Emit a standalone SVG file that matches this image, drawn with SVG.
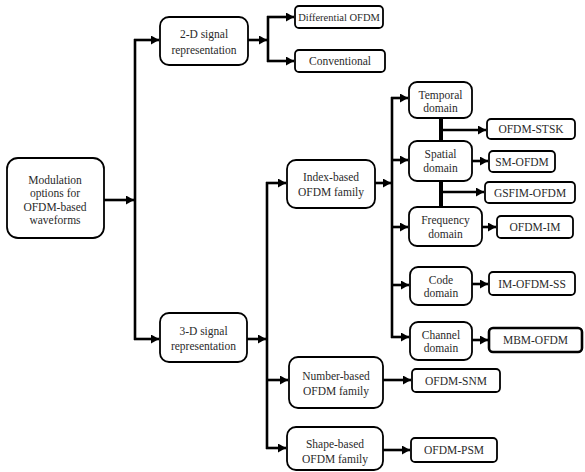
<svg xmlns="http://www.w3.org/2000/svg" width="585" height="472" viewBox="0 0 585 472">
<defs>
<marker id="ah" markerUnits="userSpaceOnUse" markerWidth="9" markerHeight="9" refX="8" refY="4.5" orient="auto">
<path d="M0,0 L8,4.5 L0,9 Z" fill="#000"/>
</marker>
<style>
.b{fill:#fff;stroke:#000;stroke-width:1.8}
.t{font-size:11.5px;fill:#2a2a2a;text-anchor:middle;dominant-baseline:central}
.c{fill:none;stroke:#000;stroke-width:2.6}
.a{fill:none;stroke:#000;stroke-width:2.6;marker-end:url(#ah)}
</style>
</defs>
<rect width="585" height="472" fill="#fff"/>
<g id="connectors">
<path class="c" d="M135,39 V340"/>
<path class="a" d="M104,200 H134"/>
<path class="a" d="M134,40 H159"/>
<path class="a" d="M134,339 H159"/>
<path class="a" d="M248,40 H267"/>
<path class="c" d="M268,16 V62"/>
<path class="a" d="M267,17 H294"/>
<path class="a" d="M267,61 H294"/>
<path class="a" d="M247,339 H266"/>
<path class="c" d="M267,182 V449"/>
<path class="a" d="M266,183 H286"/>
<path class="a" d="M266,380 H288"/>
<path class="a" d="M266,448 H286"/>
<path class="a" d="M383,380 H411"/>
<path class="a" d="M383,450 H410"/>
<path class="a" d="M375,183 H391"/>
<path class="c" d="M392,97 V338"/>
<path class="a" d="M391,98 H408"/>
<path class="a" d="M391,160 H408"/>
<path class="a" d="M391,227 H408"/>
<path class="a" d="M391,285 H409"/>
<path class="a" d="M391,337 H409"/>
<path fill="none" stroke="#000" stroke-width="4" d="M441,118 V141 M441,181 V207"/>
<path class="a" d="M441,130 H486"/>
<path class="a" d="M441,192 H484"/>
<path class="a" d="M472,161 H488"/>
<path class="a" d="M482,227 H496"/>
<path class="a" d="M472,284 H488"/>
<path class="a" d="M472,340 H488"/>
</g>
<g font-family="Liberation Serif, Times New Roman, DejaVu Serif, serif">
<g id="root"><rect class="b" x="7" y="158" width="97" height="80" rx="11"/>
<text class="t" x="55" y="180">Modulation</text><text class="t" x="55" y="193">options for</text><text class="t" x="55" y="207">OFDM-based</text><text class="t" x="55" y="220">waveforms</text></g>
<g id="n2d"><rect class="b" x="160" y="17" width="88" height="48" rx="9"/>
<text class="t" x="204" y="34">2-D signal</text><text class="t" x="204" y="50">representation</text></g>
<g id="diff"><rect class="b" x="295" y="6" width="88" height="22" rx="4"/><text class="t" x="339" y="17" style="font-size:10.5px">Differential OFDM</text></g>
<g id="conv"><rect class="b" x="295" y="50" width="90" height="22" rx="4"/><text class="t" x="340" y="61">Conventional</text></g>
<g id="n3d"><rect class="b" x="160" y="313" width="87" height="49" rx="9"/>
<text class="t" x="203.5" y="331">3-D signal</text><text class="t" x="203.5" y="346">representation</text></g>
<g id="index"><rect class="b" x="287" y="160" width="88" height="48" rx="9"/>
<text class="t" x="331" y="177">Index-based</text><text class="t" x="331" y="192">OFDM family</text></g>
<g id="number"><rect class="b" x="289" y="357" width="94" height="51" rx="9"/>
<text class="t" x="336" y="376">Number-based</text><text class="t" x="336" y="391">OFDM family</text></g>
<g id="shape"><rect class="b" x="287" y="427" width="96" height="43" rx="9"/>
<text class="t" x="335" y="444">Shape-based</text><text class="t" x="335" y="459">OFDM family</text></g>
<g id="snm"><rect class="b" x="412" y="369" width="88" height="23" rx="4"/><text class="t" x="456" y="380.5">OFDM-SNM</text></g>
<g id="psm"><rect class="b" x="411" y="438" width="86" height="24" rx="4"/><text class="t" x="454" y="450">OFDM-PSM</text></g>
<g id="temporal"><rect class="b" x="409" y="82" width="63" height="36" rx="8"/>
<text class="t" x="440.5" y="95">Temporal</text><text class="t" x="440.5" y="108">domain</text></g>
<g id="spatial"><rect class="b" x="409" y="141" width="63" height="40" rx="8"/>
<text class="t" x="440.5" y="154">Spatial</text><text class="t" x="440.5" y="168">domain</text></g>
<g id="frequency"><rect class="b" x="409" y="207" width="73" height="39" rx="8"/>
<text class="t" x="445.5" y="220">Frequency</text><text class="t" x="445.5" y="234">domain</text></g>
<g id="code"><rect class="b" x="410" y="267" width="62" height="38" rx="8"/>
<text class="t" x="441" y="280">Code</text><text class="t" x="441" y="293">domain</text></g>
<g id="channel"><rect class="b" x="410" y="322" width="62" height="38" rx="8"/>
<text class="t" x="441" y="335">Channel</text><text class="t" x="441" y="348">domain</text></g>
<g id="stsk"><rect class="b" x="487" y="119" width="88" height="20" rx="4"/><text class="t" x="531" y="129">OFDM-STSK</text></g>
<g id="smofdm"><rect class="b" x="489" y="151" width="66" height="21" rx="4"/><text class="t" x="522" y="161.5">SM-OFDM</text></g>
<g id="gsfim"><rect class="b" x="485" y="182" width="90" height="21" rx="4"/><text class="t" x="530" y="192.5">GSFIM-OFDM</text></g>
<g id="ofdmim"><rect class="b" x="497" y="216" width="76" height="22" rx="4"/><text class="t" x="535" y="227">OFDM-IM</text></g>
<g id="imss"><rect class="b" x="489" y="272" width="86" height="23" rx="4"/><text class="t" x="532" y="283.5">IM-OFDM-SS</text></g>
<g id="mbm"><rect class="b" x="489" y="328" width="93" height="24" rx="4" style="stroke-width:2.6"/><text class="t" x="535.5" y="340">MBM-OFDM</text></g>
</g>
</svg>
